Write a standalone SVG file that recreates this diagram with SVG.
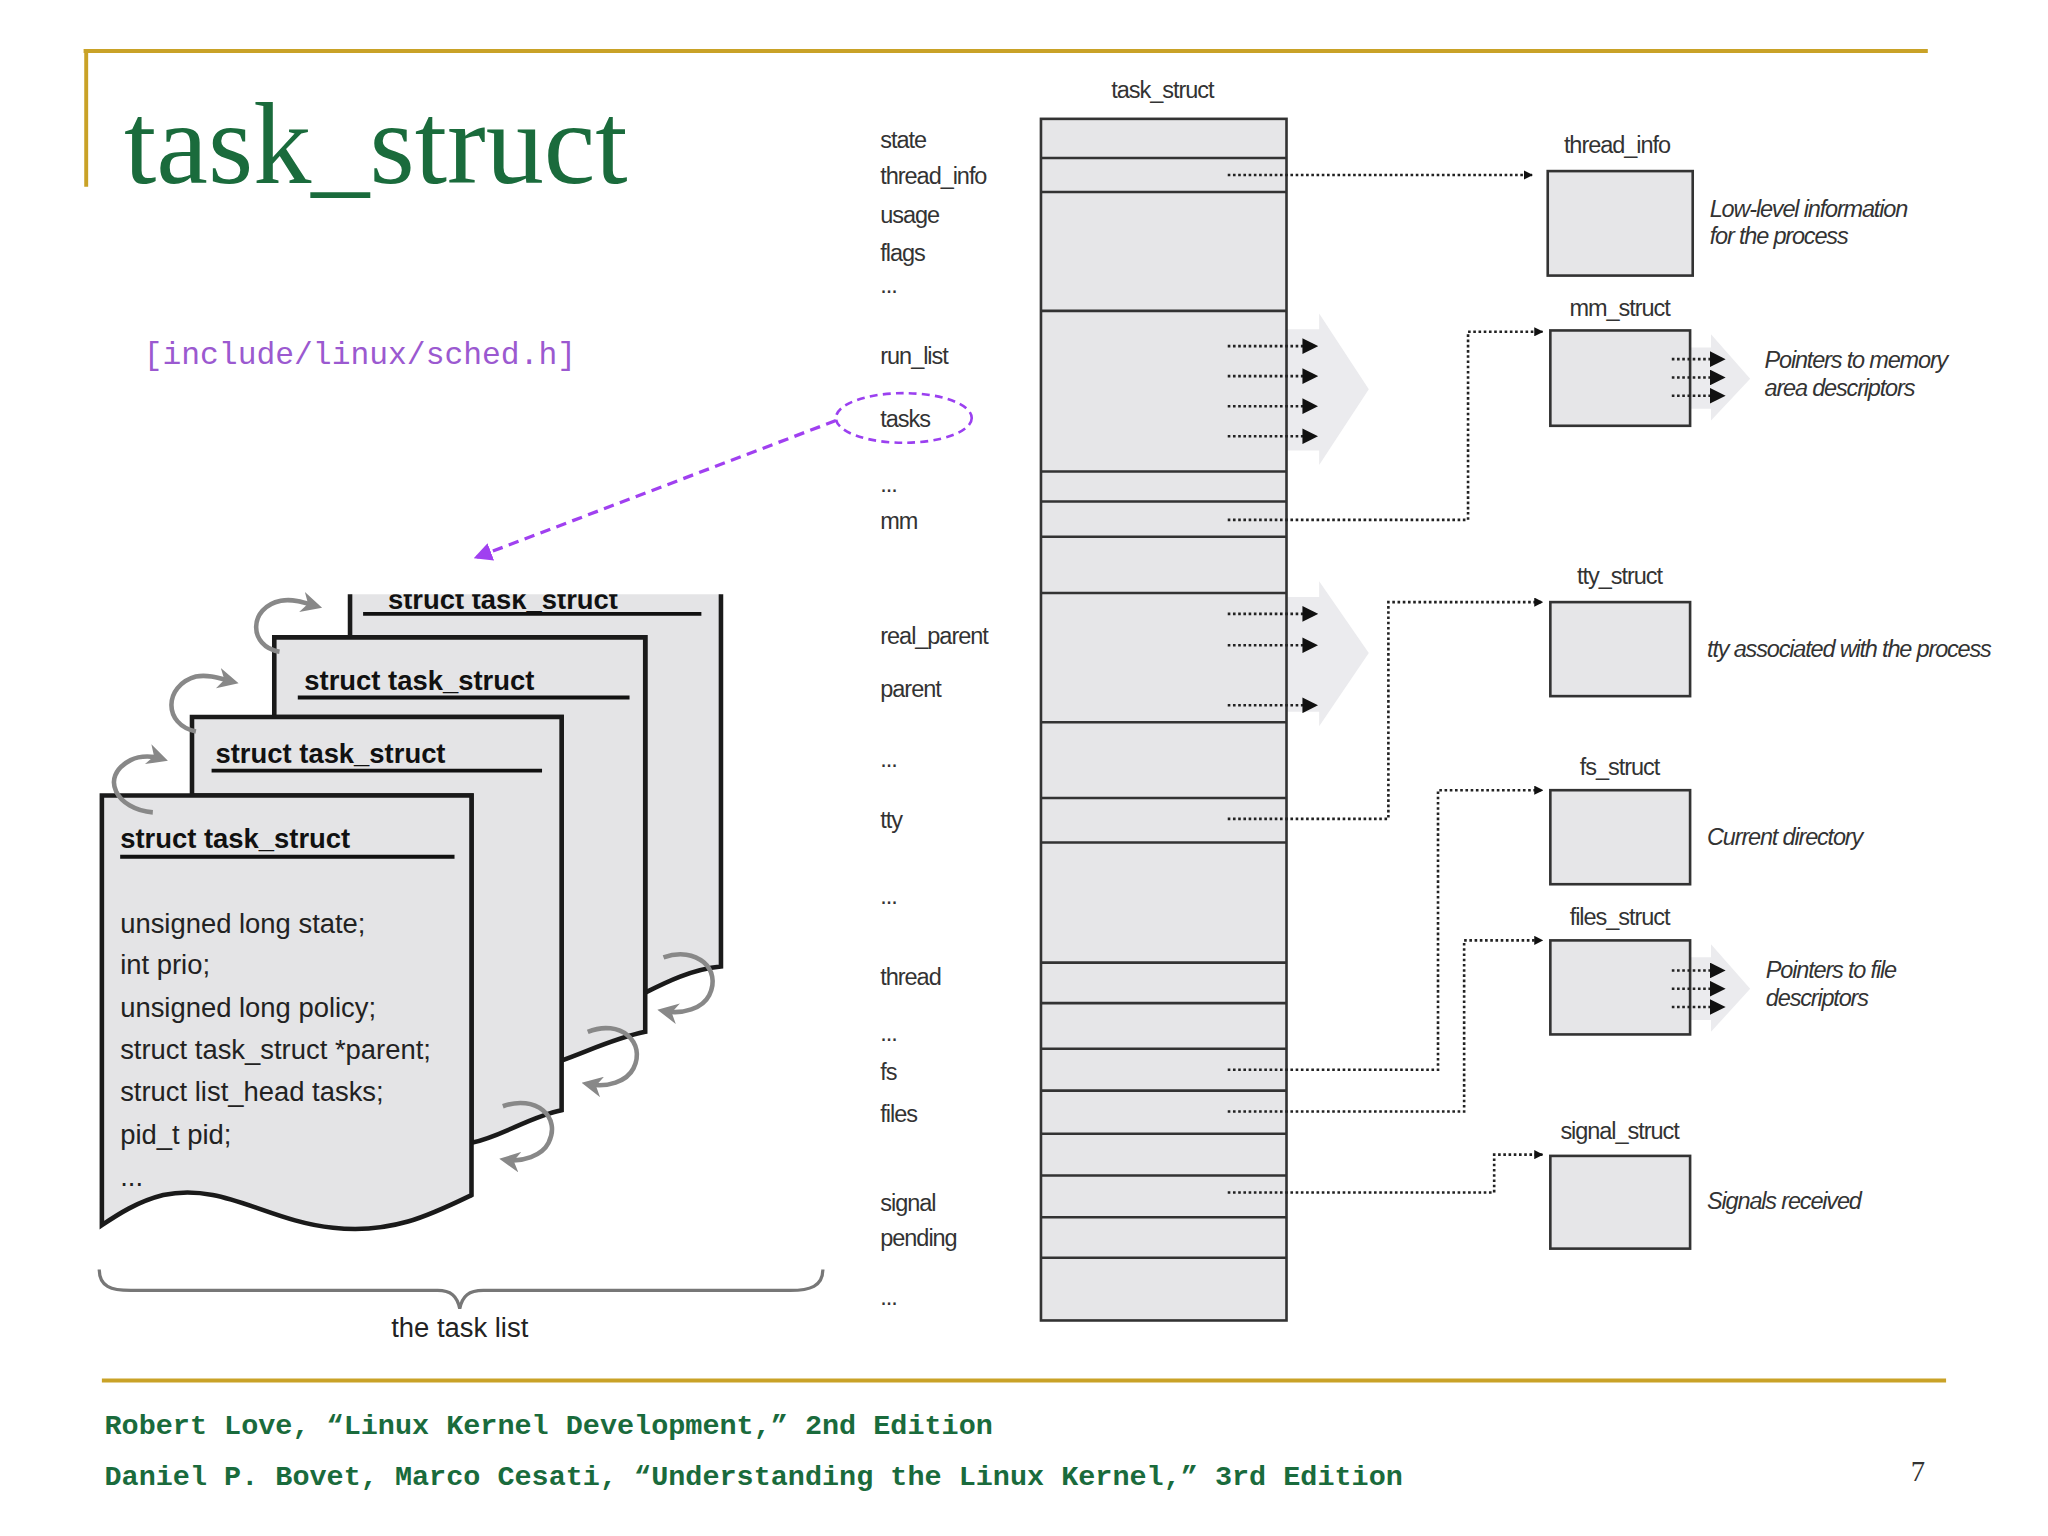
<svg xmlns="http://www.w3.org/2000/svg" width="2048" height="1536" viewBox="0 0 2048 1536">
<defs>
<marker id="ah" viewBox="0 0 10 10" refX="9" refY="5" markerWidth="7" markerHeight="7" orient="auto" markerUnits="userSpaceOnUse"><path d="M0,0 L10,5 L0,10 z" fill="#111"/></marker>
<marker id="ah2" viewBox="0 0 10 10" refX="9" refY="5" markerWidth="12" markerHeight="12" orient="auto" markerUnits="userSpaceOnUse"><path d="M0,0 L10,5 L0,10 z" fill="#111"/></marker>
<marker id="ap" viewBox="0 0 10 10" refX="9" refY="5" markerWidth="14" markerHeight="14" orient="auto" markerUnits="userSpaceOnUse"><path d="M0,0 L10,5 L0,10 z" fill="#a040f0"/></marker>
<marker id="ag" viewBox="0 0 10 10" refX="7" refY="5" markerWidth="16" markerHeight="16" orient="auto" markerUnits="userSpaceOnUse"><path d="M0,0 L10,5 L0,10 L3,5 z" fill="#888"/></marker>
<clipPath id="cp4"><rect x="260" y="455" width="300" height="320"/></clipPath>
</defs>
<style>
.lbl{font-family:"Liberation Sans",Arial,sans-serif;font-size:18px;letter-spacing:-0.8px;fill:#333}
.it{font-family:"Liberation Sans",Arial,sans-serif;font-size:18px;letter-spacing:-0.9px;font-style:italic;fill:#333}
.box{fill:#e6e6e8;stroke:#333;stroke-width:2}
.dot{fill:none;stroke:#222;stroke-width:2;stroke-dasharray:2 2}
.pg{fill:#e4e4e6;stroke:#1a1a1a;stroke-width:3.5}
.pt{font-family:"Liberation Sans",Arial,sans-serif;font-size:21px;fill:#222}
.ph{font-family:"Liberation Sans",Arial,sans-serif;font-size:21px;font-weight:bold;fill:#111}
.ul{stroke:#111;stroke-width:3}
.ga{fill:none;stroke:#888;stroke-width:3.5}
.big{fill:#ebebee}
.ft{font-family:"Liberation Mono","Courier New",monospace;font-size:21.8px;font-weight:bold;fill:#1a6b3c}
</style>
<rect width="2048" height="1536" fill="#fff"/>
<g transform="scale(1.3061)">
<g id="frame">
<path d="M64,39 H1476 M66,39 V143" stroke="#c9a227" stroke-width="3" fill="none"/>
<path d="M78,1057 H1490" stroke="#c9a227" stroke-width="3"/>
<text x="95" y="140" font-family="Liberation Serif,serif" font-size="89" fill="#1a6b3c">task_struct</text>
<text x="110" y="279" font-family="Liberation Mono,monospace" font-size="24" fill="#9b59d0">[include/linux/sched.h]</text>
</g>
<g id="bigarrows">
<path class="big" d="M985,252 H1010 V240 L1048,298 L1010,356 V345 H985 z"/>
<path class="big" d="M985,457 H1010 V445 L1048,500 L1010,556 V545 H985 z"/>
<path class="big" d="M1294,266 H1310 V256 L1340,290 L1310,322 V313 H1294 z"/>
<path class="big" d="M1294,733 H1310 V723 L1340,757 L1310,790 V781 H1294 z"/>
</g>
<g id="task_struct_col">
<text class="lbl" x="890" y="75" text-anchor="middle">task_struct</text>
<rect class="box" x="797" y="91" width="188" height="920"/>
<path d="M797,121H985M797,147H985M797,238H985M797,361H985M797,384H985M797,411H985M797,454H985M797,553H985M797,611H985M797,645H985M797,737H985M797,768H985M797,803H985M797,835H985M797,868H985M797,900H985M797,932H985M797,963H985" stroke="#333" stroke-width="2"/>
<text class="lbl" x="674" y="113">state</text>
<text class="lbl" x="674" y="141">thread_info</text>
<text class="lbl" x="674" y="171">usage</text>
<text class="lbl" x="674" y="200">flags</text>
<text class="lbl" x="674" y="224">...</text>
<text class="lbl" x="674" y="279">run_list</text>
<text class="lbl" x="674" y="327">tasks</text>
<text class="lbl" x="674" y="377">...</text>
<text class="lbl" x="674" y="405">mm</text>
<text class="lbl" x="674" y="493">real_parent</text>
<text class="lbl" x="674" y="534">parent</text>
<text class="lbl" x="674" y="587">...</text>
<text class="lbl" x="674" y="634">tty</text>
<text class="lbl" x="674" y="692">...</text>
<text class="lbl" x="674" y="754">thread</text>
<text class="lbl" x="674" y="797">...</text>
<text class="lbl" x="674" y="827">fs</text>
<text class="lbl" x="674" y="859">files</text>
<text class="lbl" x="674" y="927">signal</text>
<text class="lbl" x="674" y="954">pending</text>
<text class="lbl" x="674" y="999">...</text>
<ellipse cx="692" cy="320" rx="52" ry="19" fill="none" stroke="#9b40f0" stroke-width="2" stroke-dasharray="6 4"/>
</g>
<g id="thread_info"><text class="lbl" x="1238" y="117" text-anchor="middle">thread_info</text><rect class="box" x="1185" y="131" width="111" height="80"/><text class="it" x="1309" y="166">Low-level information</text><text class="it" x="1309" y="187">for the process</text></g>
<g id="mm_struct"><text class="lbl" x="1240" y="242" text-anchor="middle">mm_struct</text><rect class="box" x="1187" y="253" width="107" height="73"/><text class="it" x="1351" y="282">Pointers to memory</text><text class="it" x="1351" y="303">area descriptors</text></g>
<g id="tty_struct"><text class="lbl" x="1240" y="447" text-anchor="middle">tty_struct</text><rect class="box" x="1187" y="461" width="107" height="72"/><text class="it" x="1307" y="503">tty associated with the process</text></g>
<g id="fs_struct"><text class="lbl" x="1240" y="593" text-anchor="middle">fs_struct</text><rect class="box" x="1187" y="605" width="107" height="72"/><text class="it" x="1307" y="647">Current directory</text></g>
<g id="files_struct"><text class="lbl" x="1240" y="708" text-anchor="middle">files_struct</text><rect class="box" x="1187" y="720" width="107" height="72"/><text class="it" x="1352" y="749">Pointers to file</text><text class="it" x="1352" y="770">descriptors</text></g>
<g id="signal_struct"><text class="lbl" x="1240" y="872" text-anchor="middle">signal_struct</text><rect class="box" x="1187" y="885" width="107" height="71"/><text class="it" x="1307" y="926">Signals received</text></g>
<g id="task_list">
<g clip-path="url(#cp4)">
<path class="pg" d="M268,440 H552 V740 C530,742 510,752 494,760 L494,488 L268,488 z"/>
<text class="ph" x="297" y="466">struct task_struct</text>
<path class="ul" d="M278,470 H537"/>
</g>
<path class="pg" d="M210,488 H494 V790 C470,795 450,805 430,812 V549 H210 z"/>
<path class="pg" d="M147,549 H430 V850 C405,855 385,870 361,875 V609 H147 z"/>
<path class="pg" d="M78,609 H361 V915 C330,930 300,945 255,940 C205,935 170,905 125,915 C105,920 90,930 78,938 z"/>
<text class="ph" x="233" y="528">struct task_struct</text><path class="ul" d="M228,534 H482"/>
<text class="ph" x="165" y="584">struct task_struct</text><path class="ul" d="M162,590 H415"/>
<text class="ph" x="92" y="649">struct task_struct</text><path class="ul" d="M92,656 H348"/>
<text class="pt" x="92" y="714">unsigned long state;</text>
<text class="pt" x="92" y="746">int prio;</text>
<text class="pt" x="92" y="779">unsigned long policy;</text>
<text class="pt" x="92" y="811">struct task_struct *parent;</text>
<text class="pt" x="92" y="843">struct list_head tasks;</text>
<text class="pt" x="92" y="876">pid_t pid;</text>
<text class="pt" x="92" y="908">...</text>
<path class="ga" marker-end="url(#ag)" d="M117,622 C90,620 75,595 100,582 C108,578 118,579 124,581"/>
<path class="ga" marker-end="url(#ag)" d="M150,560 C125,555 125,525 150,518 C160,516 170,520 178,522"/>
<path class="ga" marker-end="url(#ag)" d="M214,499 C190,495 190,465 215,460 C225,458 235,462 242,464"/>
<path class="ga" marker-end="url(#ag)" d="M385,847 C410,838 430,855 420,875 C415,885 400,890 387,888"/>
<path class="ga" marker-end="url(#ag)" d="M450,790 C475,780 495,798 485,818 C480,828 465,833 450,830"/>
<path class="ga" marker-end="url(#ag)" d="M508,733 C533,724 553,742 543,762 C538,772 523,777 508,774"/>
<path d="M76,972 C76,985 85,988 100,988 H335 C345,988 350,992 352,1002 C354,992 359,988 370,988 H605 C620,988 630,985 630,972" fill="none" stroke="#777" stroke-width="2.5"/>
<text class="pt" x="352" y="1024" text-anchor="middle">the task list</text>
</g>
<g id="connectors">
<path d="M640,322 L364,427" stroke="#a040f0" stroke-width="2.5" stroke-dasharray="8 5" fill="none" marker-end="url(#ap)"/>
<path class="dot" marker-end="url(#ah)" d="M940,134 H1173"/>
<path class="dot" marker-end="url(#ah)" d="M940,398 H1124 V254 H1181"/>
<path class="dot" marker-end="url(#ah)" d="M940,627 H1063 V461 H1181"/>
<path class="dot" marker-end="url(#ah)" d="M940,819 H1101 V605 H1181"/>
<path class="dot" marker-end="url(#ah)" d="M940,851 H1121 V720 H1181"/>
<path class="dot" marker-end="url(#ah)" d="M940,913 H1144 V884 H1181"/>
<path class="dot" marker-end="url(#ah2)" d="M940,265 H1008"/>
<path class="dot" marker-end="url(#ah2)" d="M940,288 H1008"/>
<path class="dot" marker-end="url(#ah2)" d="M940,311 H1008"/>
<path class="dot" marker-end="url(#ah2)" d="M940,334 H1008"/>
<path class="dot" marker-end="url(#ah2)" d="M940,470 H1008"/>
<path class="dot" marker-end="url(#ah2)" d="M940,494 H1008"/>
<path class="dot" marker-end="url(#ah2)" d="M940,540 H1008"/>
<path class="dot" marker-end="url(#ah2)" d="M1280,275 H1320"/>
<path class="dot" marker-end="url(#ah2)" d="M1280,289 H1320"/>
<path class="dot" marker-end="url(#ah2)" d="M1280,303 H1320"/>
<path class="dot" marker-end="url(#ah2)" d="M1280,743 H1320"/>
<path class="dot" marker-end="url(#ah2)" d="M1280,757 H1320"/>
<path class="dot" marker-end="url(#ah2)" d="M1280,771 H1320"/>
</g>
<g id="footer">
<text class="ft" x="80" y="1098">Robert Love, “Linux Kernel Development,” 2nd Edition</text>
<text class="ft" x="80" y="1137">Daniel P. Bovet, Marco Cesati, “Understanding the Linux Kernel,” 3rd Edition</text>
<text x="1463" y="1134" font-family="Liberation Serif,serif" font-size="22" fill="#333">7</text>
</g>
</g>
</svg>
